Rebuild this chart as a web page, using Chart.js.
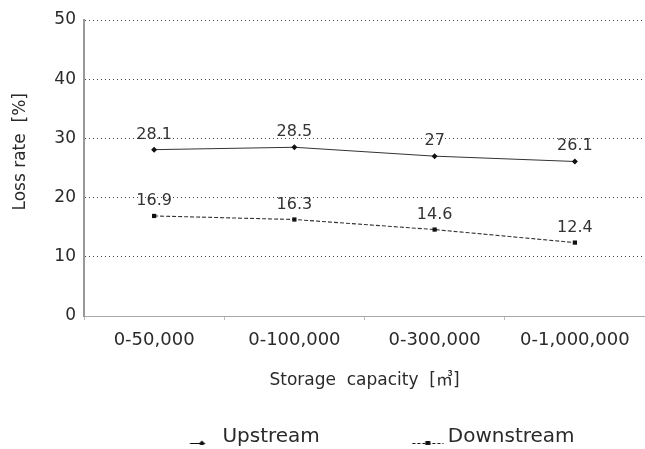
<!DOCTYPE html>
<html>
<head>
<meta charset="utf-8">
<script src="https://cdn.jsdelivr.net/npm/chart.js@4"></script>
<style>
  html, body { margin: 0; padding: 0; background: #fff; }
  #wrap { width: 645px; height: 449px; }
</style>
</head>
<body>
<div id="wrap"><canvas id="lossChart" width="645" height="449"></canvas></div>
<script>
const categories = ['0-50,000', '0-100,000', '0-300,000', '0-1,000,000'];
const upstream = [28.1, 28.5, 27, 26.1];
const downstream = [16.9, 16.3, 14.6, 12.4];
const yTicks = [0, 10, 20, 30, 40, 50];

const fontFamily = "'DejaVu Sans', 'Noto Sans CJK KR', sans-serif";
const textColor = '#2a2a2a';
const iconBox = 114;

// legend icon: short line with the marker, near the right end of a wide transparent box
const legendIcon = (dashed, square) => {
  let extra = dashed ? 12 : 0;
  let c = document.createElement('canvas');
  c.width = iconBox + extra; c.height = 16;
  let g = c.getContext('2d');
  let len = dashed ? 31 : 15;
  let x0 = dashed ? c.width - len - 0.5 : iconBox - 7.5 - len;
  g.strokeStyle = '#111';
  g.lineWidth = 1;
  if (dashed) g.setLineDash([3, 2]);
  g.beginPath(); g.moveTo(x0, 14.5); g.lineTo(x0 + len, 14.5); g.stroke();
  g.fillStyle = '#111';
  if (square) g.fillRect(x0 + 13, 12, 5, 5);
  else {
    let mx = x0 + 12;
    g.beginPath();
    g.moveTo(mx, 11.5); g.lineTo(mx + 3, 14.5); g.lineTo(mx, 17.5); g.lineTo(mx - 3, 14.5);
    g.closePath(); g.fill();
  }
  return c;
};

const valueLabels = {
  id: 'valueLabels',
  afterDatasetsDraw(chart) {
    let ctx = chart.ctx;
    ctx.save();
    ctx.font = '16px ' + fontFamily;
    ctx.fillStyle = '#333';
    ctx.textAlign = 'center';
    ctx.textBaseline = 'alphabetic';
    chart.data.datasets.forEach((ds, i) => {
      chart.getDatasetMeta(i).data.forEach((pt, j) => {
        ctx.fillText(String(ds.data[j]), pt.x, pt.y - 11);
      });
    });
    ctx.restore();
  }
};

new Chart('lossChart', {
  type: 'line',
  plugins: [valueLabels],
  data: {
    labels: categories,
    datasets: [
      {
        label: 'Upstream',
        data: upstream,
        borderColor: '#333',
        backgroundColor: '#111',
        borderWidth: 1,
        pointStyle: 'rectRot',
        pointRadius: 3,
        pointBackgroundColor: '#111',
        pointBorderWidth: 0,
        tension: 0
      },
      {
        label: 'Downstream',
        data: downstream,
        borderColor: '#333',
        backgroundColor: '#111',
        borderWidth: 1.1,
        borderDash: [4, 2],
        pointStyle: 'rect',
        pointRadius: 3,
        pointBackgroundColor: '#111',
        pointBorderWidth: 0,
        tension: 0
      }
    ]
  },
  options: {
    responsive: false,
    animation: false,
    devicePixelRatio: 1,
    layout: { autoPadding: false, padding: { top: 20, right: -7, left: 21, bottom: -8 } },
    plugins: {
      tooltip: { enabled: false },
      legend: {
        position: 'bottom',
        labels: {
          color: textColor,
          font: { size: 20, family: fontFamily },
          usePointStyle: true,
          pointStyleWidth: iconBox,
          padding: 4,
          generateLabels: (chart) => chart.data.datasets.map((ds, i) => ({
            text: ds.label,
            pointStyle: legendIcon(i === 1, i === 1),
            datasetIndex: i,
            hidden: false,
            fontColor: textColor,
            lineWidth: 0,
            strokeStyle: 'transparent',
            fillStyle: 'transparent'
          }))
        }
      }
    },
    scales: {
      x: {
        offset: true,
        grid: { offset: true, drawOnChartArea: false, drawTicks: true, tickLength: 4, color: '#bbb' },
        border: { color: '#aaa', width: 1 },
        ticks: { color: textColor, font: { size: 18, family: fontFamily }, padding: 10 },
        title: {
          display: true,
          text: 'Storage  capacity  [㎥]',
          color: textColor,
          font: { size: 17, family: fontFamily },
          padding: { top: 10, bottom: 32 }
        },
        afterFit: (s) => { s.height = 107; s.paddingRight = -7; }
      },
      y: {
        min: 0,
        max: 50,
        afterBuildTicks: (s) => { s.ticks = yTicks.map(v => ({ value: v })); },
        grid: {
          color: (c) => c.tick && c.tick.value === 0 ? 'transparent' : '#444',
          lineWidth: 1,
          drawTicks: false
        },
        border: { color: '#999', width: 2, dash: [1, 3], dashOffset: 0 },
        ticks: { color: textColor, font: { size: 17, family: fontFamily }, padding: 8 },
        title: {
          display: true,
          text: '      Loss rate  [%]',
          color: textColor,
          font: { size: 17, family: fontFamily },
          padding: { top: -11, bottom: 0 }
        },
        afterFit: (s) => { s.width = 63; s.paddingTop = 0; s.paddingRight = -7; }
      }
    }
  }
});
</script>
</body>
</html>
